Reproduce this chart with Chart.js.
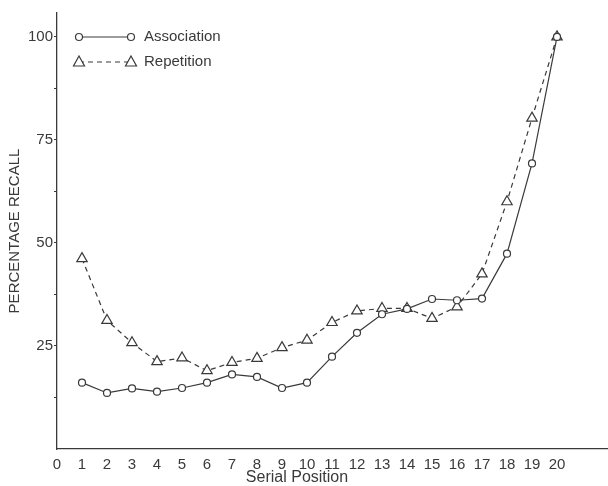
<!DOCTYPE html>
<html>
<head>
<meta charset="utf-8">
<script src="https://cdn.jsdelivr.net/npm/chart.js@4.4.1/dist/chart.umd.min.js"></script>
<style>
html, body { margin: 0; padding: 0; background: #fff; }
#wrap { width: 608px; height: 486px; position: relative; }
</style>
</head>
<body>
<div id="wrap"><canvas id="recallChart"></canvas></div>
<script>
// serial position curves
var positions = [1, 2, 3, 4, 5, 6, 7, 8, 9, 10, 11, 12, 13, 14, 15, 16, 17, 18, 19, 20];
var association = [16.1, 13.6, 14.7, 13.9, 14.8, 16.1, 18.1, 17.5, 14.8, 16.1, 22.4, 28.2, 32.7, 34.0, 36.4, 36.1, 36.5, 47.4, 69.3, 100];
var repetition = [46.2, 31.2, 25.8, 21.2, 22.1, 19.0, 21.0, 22.0, 24.6, 26.4, 30.7, 33.5, 34.1, 34.1, 31.7, 34.5, 42.5, 60.0, 80.3, 100];
var xTicks = [0, 1, 2, 3, 4, 5, 6, 7, 8, 9, 10, 11, 12, 13, 14, 15, 16, 17, 18, 19, 20];
var yTicks = [12.5, 25, 37.5, 50, 62.5, 75, 87.5, 100];
var yLabels = [25, 50, 75, 100];

var ink = '#3a3a3a';
var fontName = '"Liberation Sans", Arial, sans-serif';

function toPoints(vals) {
    return positions.map(function(p, i){ return {x: p, y: vals[i]}; });
}

// legend in the top-left corner + x axis title (sits a bit left of centre)
var extras = {
    id: 'extras',
    afterDraw: function(chart) {
        var ctx = chart.ctx;
        var a = chart.chartArea;
        var xs = chart.scales.x;
        ctx.save();
        ctx.strokeStyle = ink;
        ctx.fillStyle = ink;
        ctx.lineWidth = 1.2;
        ctx.font = '15px ' + fontName;
        ctx.textBaseline = 'middle';

        var x1 = a.left + 22, x2 = a.left + 74, y1 = a.top + 24, y2 = a.top + 49;
        // association sample
        ctx.beginPath(); ctx.moveTo(x1, y1); ctx.lineTo(x2, y1); ctx.stroke();
        [x1, x2].forEach(function(x){
            ctx.beginPath(); ctx.arc(x, y1, 3.5, 0, Math.PI * 2);
            ctx.fillStyle = '#fff'; ctx.fill(); ctx.stroke();
        });
        // repetition sample
        ctx.setLineDash([5, 4]);
        ctx.beginPath(); ctx.moveTo(x1, y2); ctx.lineTo(x2, y2); ctx.stroke();
        ctx.setLineDash([]);
        [x1, x2].forEach(function(x){
            ctx.beginPath();
            ctx.moveTo(x, y2 - 6); ctx.lineTo(x + 5.5, y2 + 4); ctx.lineTo(x - 5.5, y2 + 4); ctx.closePath();
            ctx.fillStyle = '#fff'; ctx.fill(); ctx.stroke();
        });
        ctx.fillStyle = ink;
        ctx.textAlign = 'left';
        ctx.fillText('Association', a.left + 87, y1);
        ctx.fillText('Repetition', a.left + 87, y2);

        ctx.textAlign = 'center';
        ctx.font = '16px ' + fontName;
        ctx.fillText('Serial Position', xs.getPixelForValue(9.6), 478);
        ctx.restore();
    }
};

var ctx = document.getElementById('recallChart').getContext('2d');
var chart = new Chart(ctx, {
    type: 'line',
    data: {
        datasets: [{
            label: 'Association',
            data: toPoints(association),
            borderColor: ink,
            borderWidth: 1.2,
            backgroundColor: '#fff',
            pointStyle: 'circle',
            pointRadius: 3.5,
            pointBorderWidth: 1.2,
            tension: 0
        }, {
            label: 'Repetition',
            data: toPoints(repetition),
            borderColor: ink,
            borderWidth: 1.2,
            borderDash: [5, 4],
            backgroundColor: '#fff',
            pointStyle: 'triangle',
            pointRadius: 6,
            pointBorderWidth: 1.2,
            tension: 0
        }]
    },
    options: {
        responsive: true,
        maintainAspectRatio: false,
        animation: false,
        clip: false,
        layout: { autoPadding: false, padding: { left: 0, right: 1, top: 13, bottom: 0 } },
        plugins: {
            legend: { display: false },
            tooltip: { enabled: false }
        },
        scales: {
            x: {
                type: 'linear',
                min: 0,
                max: 22,
                afterFit: function(scale){ scale.height = 37; },
                afterBuildTicks: function(scale){
                    scale.ticks = xTicks.map(function(v){ return {value: v}; });
                },
                grid: { display: false },
                border: { display: true, color: ink, width: 1.3 },
                ticks: {
                    color: ink,
                    padding: -1,
                    maxRotation: 0,
                    autoSkip: false,
                    font: { family: fontName, size: 15 }
                }
            },
            y: {
                type: 'linear',
                min: 0,
                max: 105.8,
                afterFit: function(scale){ scale.width = 57; },
                afterBuildTicks: function(scale){
                    scale.ticks = yTicks.map(function(v){ return {value: v}; });
                },
                grid: {
                    display: true,
                    drawOnChartArea: false,
                    drawTicks: true,
                    tickLength: 3,
                    color: ink
                },
                border: { display: true, color: ink, width: 1.3 },
                title: {
                    display: true,
                    text: 'PERCENTAGE RECALL',
                    color: ink,
                    padding: { top: 6, bottom: 0 },
                    font: { family: fontName, size: 15 }
                },
                ticks: {
                    color: ink,
                    padding: 1,
                    font: { family: fontName, size: 15 },
                    callback: function(v){ return yLabels.indexOf(v) >= 0 ? String(v) : ''; }
                }
            }
        }
    },
    plugins: [extras]
});
</script>
</body>
</html>
